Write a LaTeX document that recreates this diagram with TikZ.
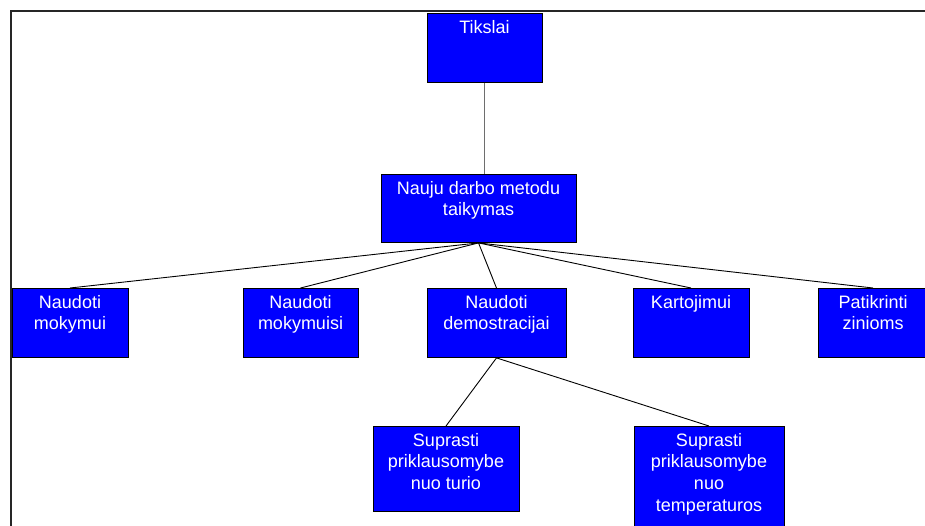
\documentclass[tikz,border=0pt]{standalone}
\usepackage{fontspec}
\setmainfont{Liberation Sans}
\definecolor{boxblue}{RGB}{0,0,255}
\definecolor{linkgrey}{RGB}{110,110,110}
\tikzset{
  x=1pt, y=-1pt,
  box/.style={draw=black, line width=0.9pt, fill=boxblue, inner sep=0pt, anchor=north},
  lbl/.style={text=white, font=\fontsize{18}{21.6}\selectfont, align=center, inner sep=0pt, anchor=north},
  link/.style={draw=black, line width=0.9pt},
  frameline/.style={draw=black!85, line width=2pt}
}
% \chartbox{name}{centre x}{top y}{width}{height}{text}
\newcommand{\chartbox}[6]{%
  \node[box, minimum width=#4pt, minimum height=#5pt] (#1) at (#2,#3) {};
  \node[lbl] (#1-text) at ([yshift=-7pt]#1.north) {#6};
}
\begin{document}
\begin{tikzpicture}
  \useasboundingbox (0,0) rectangle (925,525);
  \clip (0,0) rectangle (925,525);

  % outer frame
  \coordinate (fbl) at (10.5,530);
  \coordinate (ftl) at (10.5,11);
  \coordinate (ftr) at (930,11);
  \draw[frameline] (fbl) -- (ftl) -- (ftr);

  % top levels
  \chartbox{goal}{484.5}{13}{115}{69}{Tikslai}
  \chartbox{methods}{478.5}{174}{195}{68}{Nauju darbo metodu\\taikymas}

  % third level
  \chartbox{teach}{70}{288}{116}{69}{Naudoti\\mokymui}
  \chartbox{learn}{300.5}{288}{115}{69}{Naudoti\\mokymuisi}
  \chartbox{demo}{496.5}{288}{139}{69}{Naudoti\\demostracijai}
  \chartbox{repeat}{691}{288}{116}{69}{Kartojimui}
  \chartbox{check}{873}{288}{110}{69}{Patikrinti\\zinioms}

  % fourth level
  \chartbox{flow}{446}{426}{146}{85}{Suprasti\\priklausomybe\\nuo turio}
  \chartbox{temp}{709}{426}{150}{110}{Suprasti\\priklausomybe\\nuo\\temperaturos}

  % connectors
  \draw[link, draw=linkgrey] (goal.south) -- (goal.south |- methods.north);
  \foreach \c in {teach, learn, demo, repeat, check}
    \draw[link] (methods.south) -- (\c.north);
  \foreach \c in {flow, temp}
    \draw[link] (demo.south) -- (\c.north);
\end{tikzpicture}
\end{document}
